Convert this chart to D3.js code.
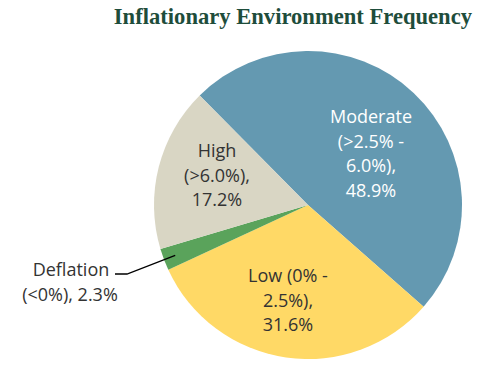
<!DOCTYPE html>
<html><head><meta charset="utf-8">
<script src="https://cdn.jsdelivr.net/npm/d3@7"></script>
<style>body{margin:0;background:#fff}</style>
</head><body>
<svg id="c" width="500" height="368"></svg>
<script>
const categories = ["Moderate", "Low", "Deflation", "High"];
const values = [48.9, 31.6, 2.3, 17.2];
const labelLines = [
  ["Moderate", "(>2.5% -", "6.0%),", "48.9%"],
  ["Low (0% -", "2.5%),", "31.6%"],
  ["Deflation", "(<0%), 2.3%"],
  ["High", "(>6.0%),", "17.2%"]
];
const colors = ["#6499B1", "#FFD966", "#5AA35B", "#D9D6C4"];
const title = "Inflationary Environment Frequency";

const svg = d3.select("#c");
const cx = 308, cy = 205, r = 154;
const start = -44.7 * Math.PI / 180;

const pie = d3.pie().sort(null).value(d => d).startAngle(start).endAngle(start + 2 * Math.PI);
const arcs = pie(values);
const arc = d3.arc().innerRadius(0).outerRadius(r);
const g = svg.append("g").attr("transform", `translate(${cx},${cy})`);
g.selectAll("path").data(arcs).join("path").attr("d", arc).attr("fill", (d, i) => colors[i]);

svg.append("text").attr("x", 472).attr("y", 24).attr("text-anchor", "end")
  .attr("font-family", "Liberation Serif, serif").attr("font-weight", "bold")
  .attr("font-size", 22.6).attr("fill", "#1E4D3B").text(title);

const font = "Open Sans, sans-serif";
const lab = [
  {x: 371, y: 117, fill: "#fff"},
  {x: 288, y: 276, fill: "#333"},
  {x: 70, y: 270, fill: "#333"},
  {x: 217, y: 151, fill: "#333"}
];
labelLines.forEach((lines, i) => {
  const t = svg.append("text").attr("text-anchor", "middle").attr("font-family", font)
    .attr("font-size", 18).attr("fill", lab[i].fill);
  lines.forEach((s, j) => {
    t.append("tspan").attr("x", i === 2 && j === 0 ? 71 : lab[i].x)
      .attr("y", lab[i].y + j * 24.5 + 6).text(s);
  });
});
const a = arcs[2];
const mid = (a.startAngle + a.endAngle) / 2;
const px = cx + Math.sin(mid) * (r - 12), py = cy - Math.cos(mid) * (r - 12);
svg.append("polyline").attr("points", `115,274 127,274 ${px},${py}`)
  .attr("fill", "none").attr("stroke", "#000").attr("stroke-width", 1.3);
</script>
</body></html>
